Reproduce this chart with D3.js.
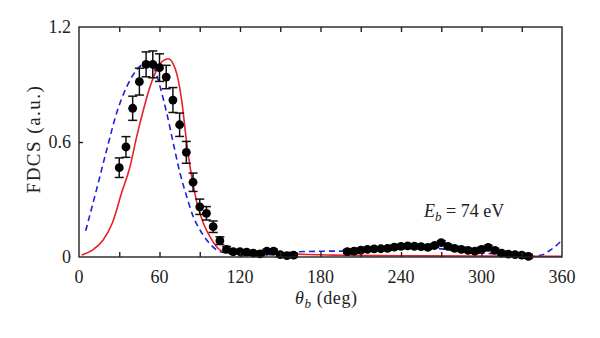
<!DOCTYPE html>
<html><head><meta charset="utf-8">
<script src="https://cdn.jsdelivr.net/npm/d3@7"></script>
<style>body{margin:0;background:#fff}svg{display:block}</style>
</head><body><svg id="c" width="600" height="338"></svg>
<script>
// Experimental data
const expTheta = [30,35,40,45,50,55,60,65,70,75,80,85,90,95,100,105,110,115,120,125,130,135,140,145,150,155,160,
  200,205,210,215,220,225,230,235,240,245,250,255,260,265,270,275,280,285,290,295,300,305,310,315,320,325,330,335];
const expValue = [0.466,0.574,0.776,0.915,1.005,1.005,0.988,0.939,0.819,0.69,0.546,0.39,0.262,0.228,0.158,0.085,0.040,0.028,0.028,0.025,0.020,0.016,0.030,0.031,0.012,0.007,0.010,
  0.028,0.031,0.036,0.040,0.042,0.043,0.045,0.052,0.055,0.058,0.056,0.054,0.050,0.060,0.075,0.055,0.045,0.040,0.035,0.030,0.040,0.050,0.035,0.020,0.015,0.012,0.010,0.003];
const expError = [0.051,0.054,0.063,0.07,0.065,0.07,0.072,0.061,0.065,0.061,0.057,0.048,0.04,0.035,0.03,0.02,0.015,0.01,0.01,0.01,0.01,0.01,0.01,0.01,0.01,0.01,0.01,
  0.01,0.01,0.01,0.01,0.01,0.01,0.01,0.01,0.01,0.01,0.01,0.01,0.01,0.01,0.01,0.01,0.01,0.01,0.01,0.01,0.01,0.01,0.01,0.01,0.01,0.01,0.01,0.01];
// Theory 1 (red solid)
const redTheta = [2,10,18,25,32,38,43,48,53,58,62.8,66.5,70,72.8,76.5,80.3,84,87.7,92.7,97.6,105,112,120,130,150,170,190,220,260,300,340,360];
const redValue = [0.01,0.036,0.089,0.18,0.34,0.471,0.628,0.767,0.889,0.976,1.024,1.034,1.01,0.958,0.819,0.593,0.419,0.289,0.176,0.106,0.037,0.022,0.02,0.019,0.017,0.013,0.01,0.007,0.006,0.005,0.004,0.004];
// Theory 2 (blue dashed)
const blueTheta = [5,13,20.6,28,35.6,43,49,52,56.6,60.4,65.4,70.3,75.3,80.3,85.2,90.2,95.2,102.6,110,115,120,130,140,150,160,180,200,230,250,265,280,290,300,310,320,330,338,345,350,355,360];
const blueValue = [0.137,0.35,0.558,0.75,0.889,0.976,1.01,1.013,0.976,0.889,0.75,0.593,0.437,0.315,0.21,0.141,0.089,0.037,0.02,0.01,0.007,0.008,0.01,0.016,0.026,0.03,0.031,0.038,0.045,0.045,0.032,0.024,0.02,0.017,0.01,0.005,0.004,0.01,0.03,0.055,0.088];
const xTickLabels = [0,60,120,180,240,300,360];
const xMinorTicks = [30,60,90,120,150,180,210,240,270,300,330];
const yTickLabels = [0,0.6,1.2];

const svg = d3.select("#c");
const L=79, R=562, T=27, B=257;
const x = d3.scaleLinear().domain([0,360]).range([L,R]);
const y = d3.scaleLinear().domain([0,1.2]).range([B,T]);
const font = "'Liberation Serif', 'DejaVu Serif', serif";

const red="#e8202a", blue="#2020d8";
const line = d3.line().x(d=>x(d[0])).y(d=>y(d[1])).curve(d3.curveMonotoneX);

const plot = svg.append("g");
plot.append("path").datum(blueTheta.map((t,i)=>[t,blueValue[i]]))
  .attr("d",line).attr("fill","none").attr("stroke",blue).attr("stroke-width",1.6).attr("stroke-dasharray","6,4");
plot.append("path").datum(redTheta.map((t,i)=>[t,redValue[i]]))
  .attr("d",line).attr("fill","none").attr("stroke",red).attr("stroke-width",1.6);

const pts = expTheta.map((t,i)=>({t,v:expValue[i],e:expError[i]}));
const eb = plot.append("g").attr("stroke","#111").attr("stroke-width",1.5);
pts.forEach(p=>{
  eb.append("line").attr("x1",x(p.t)).attr("x2",x(p.t)).attr("y1",y(p.v-p.e)).attr("y2",y(p.v+p.e));
  [p.v-p.e,p.v+p.e].forEach(v=>eb.append("line").attr("x1",x(p.t)-4.5).attr("x2",x(p.t)+4.5).attr("y1",y(v)).attr("y2",y(v)));
});
plot.selectAll("circle").data(pts).join("circle")
  .attr("cx",d=>x(d.t)).attr("cy",d=>y(d.v)).attr("r",4.4).attr("fill","#000");

// frame
svg.append("rect").attr("x",L).attr("y",T).attr("width",R-L).attr("height",B-T)
  .attr("fill","none").attr("stroke","#222").attr("stroke-width",1.4);

// ticks
const bAxis = d3.axisBottom(x).tickValues(xMinorTicks).tickSize(-5).tickFormat("");
const tAxis = d3.axisTop(x).tickValues(xMinorTicks).tickSize(-5).tickFormat("");
const lAxis = d3.axisLeft(y).tickValues([0.6]).tickSize(-4).tickFormat("");
[[bAxis,`translate(0,${B})`],[tAxis,`translate(0,${T})`],[lAxis,`translate(${L},0)`]].forEach(([a,tr])=>{
  const g = svg.append("g").attr("transform",tr).call(a);
  g.select(".domain").remove();
  g.selectAll("line").attr("stroke","#222").attr("stroke-width",1.4);
});

// labels
svg.append("g").selectAll("text").data(xTickLabels).join("text")
  .attr("x",d=>x(d)).attr("y",283).attr("text-anchor","middle")
  .attr("font-family",font).attr("font-size",18).attr("fill","#222").text(d=>d);
svg.append("g").selectAll("text").data(yTickLabels).join("text")
  .attr("x",71).attr("y",d=>y(d)+6).attr("text-anchor","end")
  .attr("font-family",font).attr("font-size",18).attr("fill","#222").text(d=>d);

svg.append("text").attr("transform","translate(40,139) rotate(-90)").attr("text-anchor","middle")
  .attr("font-family",font).attr("font-size",19).attr("letter-spacing",1.5).attr("fill","#222").text("FDCS (a.u.)");

const xl = svg.append("text").attr("x",295).attr("y",304)
  .attr("font-family",font).attr("font-size",18).attr("letter-spacing",0.6).attr("fill","#222");
xl.append("tspan").attr("font-style","italic").text("θ");
xl.append("tspan").attr("font-style","italic").attr("font-size",13).attr("dy",4).text("b");
xl.append("tspan").attr("dy",-4).text(" (deg)");

const et = svg.append("text").attr("x",424).attr("y",217)
  .attr("font-family",font).attr("font-size",18).attr("fill","#222");
et.append("tspan").attr("font-style","italic").text("E");
et.append("tspan").attr("font-style","italic").attr("font-size",13).attr("dy",4).text("b");
et.append("tspan").attr("dy",-4).text(" = 74 eV");
</script></body></html>
